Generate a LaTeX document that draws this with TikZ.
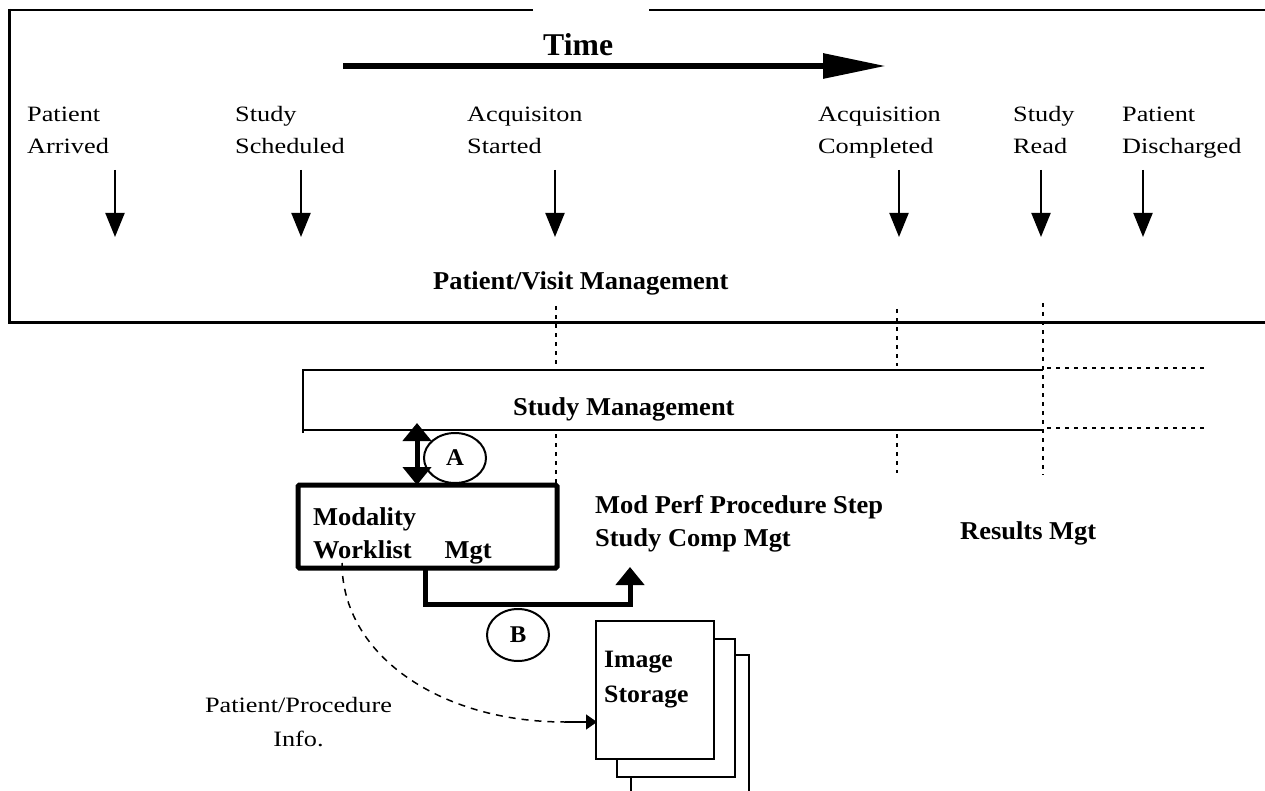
\documentclass[tikz,border=0pt]{standalone}
\usepackage{fontspec}
\setmainfont{Liberation Serif}
\newfontfamily\wideserif{Liberation Serif}[FakeStretch=1.2]
\newfontfamily\boldserif{Liberation Serif Bold}[FakeStretch=1.03]
\usetikzlibrary{arrows.meta,shapes.geometric}
\newcommand\regfont{\wideserif\fontsize{21.9}{32}\selectfont}
\newcommand\regfontb{\wideserif\fontsize{21.9}{34}\selectfont}
\newcommand\boldfont{\boldserif\fontsize{25.7}{33.5}\selectfont}
\newcommand\twolines[2]{\vtop{\hbox{#1}\hbox{#2}}}
\tikzset{
  txt/.style={inner sep=0pt, anchor=base west, font=\regfont},
  btxt/.style={inner sep=0pt, anchor=base west, font=\boldfont},
  evarrow/.style={line width=2pt, -{Triangle[length=24pt,width=19pt]}},
  dotv/.style={line width=2pt, dash pattern=on 4pt off 5pt},
  frame/.style={line width=2.5pt},
  heavy/.style={line width=5pt},
  bubble/.style={draw, ellipse, line width=2pt, minimum width=62pt, minimum height=50pt, inner sep=0pt, font=\boldserif\fontsize{24}{24}\selectfont},
  page/.style={draw, fill=white, line width=2pt, minimum width=118pt, minimum height=138pt, inner sep=0pt},
}
\begin{document}
\begin{tikzpicture}[x=1pt,y=-1pt]
\useasboundingbox (0,0) rectangle (1265,791);
\clip (0,0) rectangle (1265,791);

% top frame
\draw[line width=2pt] (533,10) -- (9,10);
\draw[line width=2pt] (649,10) -- (1265,10);
\draw[line width=3pt] (9,9) -- (9,322) -- (1265,322);

% time arrow
\node[inner sep=0pt, anchor=base west, font=\bfseries\fontsize{31.7}{34}\selectfont] (time) at (543,56) {Time};
\coordinate (t0) at (343,66);
\coordinate (t1) at (886,66);
\draw[line width=6pt, -{Triangle[length=63pt,width=24pt]}] (t0) -- (t1);

% event labels
\node[txt] (e1) at (27,122) {\twolines{Patient}{Arrived}};
\node[txt] (e2) at (235,122) {\twolines{Study}{Scheduled}};
\node[txt] (e3) at (467,122) {\twolines{Acquisiton}{Started}};
\node[txt] (e4) at (818,122) {\twolines{Acquisition}{Completed}};
\node[txt] (e5) at (1013,122) {\twolines{Study}{Read}};
\node[txt] (e6) at (1122,122) {\twolines{Patient}{Discharged}};

% event arrows
\foreach \n/\x in {1/115,2/301,3/555,4/899,5/1041,6/1143}{
  \coordinate (a\n s) at (\x,170);
  \coordinate (a\n e) at (\x,237);
  \draw[evarrow] (a\n s) -- (a\n e);
}

\node[btxt] (pvm) at (433,290) {Patient/Visit Management};

% dotted markers
\draw[dotv] (556,306) -- (556,366);
\draw[dotv] (556,434) -- (556,484);
\draw[dotv] (897,309) -- (897,366);
\draw[dotv] (897,434) -- (897,473);
\draw[dotv] (1043,303) -- (1043,475);
\draw[dotv] (1047,368) -- (1207,368);
\draw[dotv] (1047,428) -- (1207,428);

% study management band
\draw[frame] (303,433) -- (303,370) -- (1043,370);
\draw[frame] (303,430) -- (1043,430);
\node[btxt] (sm) at (513,415) {Study Management};

% modality worklist box
\node[draw, heavy, rounded corners=1.5pt, minimum width=259pt, minimum height=83pt, inner sep=0pt] (mwl) at (427.5,526.5) {};
\node[btxt] (mwlt) at (313,525) {\twolines{Modality}{Worklist\hspace*{33pt}Mgt}};

% A
\coordinate (aTop) at (417,423);
\coordinate (aBot) at (417,485);
\draw[heavy, {Triangle[length=18pt,width=28pt]}-{Triangle[length=18pt,width=28pt]}] (aTop) -- (aBot);
\node[bubble] (A) at (455,458) {A};

% MPPS labels
\node[btxt] (mpps) at (595,513) {\twolines{Mod Perf Procedure Step}{Study Comp Mgt}};
\node[btxt] (res) at (960,539) {Results Mgt};

% B connector
\coordinate (b0) at (425,568);
\coordinate (b1) at (630,567);
\draw[heavy, -{Triangle[length=18pt,width=28pt]}] (b0) -- (425,604) -- (630,604) -- (b1);
\node[bubble, minimum height=52pt] (B) at (518,635) {B};

% image storage pages
\node[page, minimum height=160pt, anchor=north west] (img3) at (630,654) {};
\node[page, anchor=north west] (img2) at (616,638) {};
\node[page, anchor=north west] (img1) at (595,620) {};
\node[btxt, font=\boldserif\fontsize{25}{35}\selectfont] (imgt) at (604,667) {\twolines{Image}{Storage}};

% patient/procedure info
\coordinate (ps) at (342,563);
\coordinate (pm) at (565,722);
\coordinate (pe) at (597,722);
\draw[line width=1.5pt, dash pattern=on 7pt off 6pt] (ps) .. controls (342,655) and (440,722) .. (pm);
\draw[line width=1.5pt, -{Triangle[length=11pt,width=15pt]}] (pm) -- (pe);
\node[inner sep=0pt, anchor=base, font=\regfontb] (ppi) at (298.5,712) {\vtop{\halign{\hfil#\hfil\cr Patient/Procedure\cr Info.\cr}}};
\end{tikzpicture}
\end{document}
